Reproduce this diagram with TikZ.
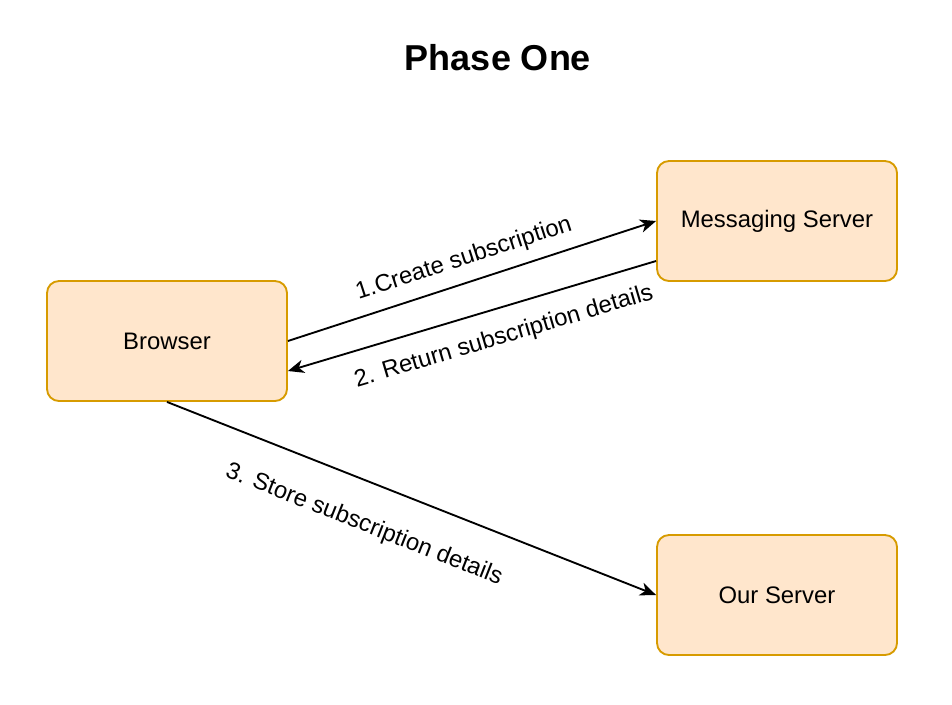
\documentclass[tikz,border=0pt]{standalone}
\usepackage{fontspec}
\setmainfont{Liberation Sans}
\usetikzlibrary{arrows.meta,calc}
\definecolor{boxfill}{HTML}{FFE6CC}
\definecolor{boxdraw}{HTML}{D79B00}
\begin{document}
\begin{tikzpicture}[x=0.75pt,y=-0.75pt,
  box/.style={draw=boxdraw,fill=boxfill,line width=1.4pt,rounded corners=9pt,
    minimum width=180pt,minimum height=90pt,inner sep=0pt,
    font=\fontsize{17.9}{21}\selectfont},
  conn/.style={line width=1.4pt,-{Stealth[length=12pt,width=10pt,inset=3.5pt]}},
  elabel/.style={font=\fontsize{17.9}{21}\selectfont,inner sep=0pt}]
\useasboundingbox (0,0) rectangle (952,704);
\node[font=\fontsize{27}{32}\selectfont\bfseries] (title) at (498,58) {Phase One};
\node[box] (ms) at (777,221) {\raisebox{-2pt}{Messaging Server}};
\node[box] (br) at (167,341) {\raisebox{-2pt}{Browser}};
\node[box] (os) at (777,595) {\raisebox{-2pt}{Our Server}};
\draw[conn] (br.east) -- (ms.west);
\draw[conn] ($(ms.west)+(0,40)$) -- ($(br.east)+(0,30)$);
\draw[conn] (br.south) -- (os.west);
\node[elabel,rotate=18] (l1) at (464,259) {1.Create subscription};
\node[elabel,rotate=16.56] (l2) at (504,337) {2. Return subscription details};
\node[elabel,rotate=-21.6] (l3) at (364,525) {3. Store subscription details};
\end{tikzpicture}
\end{document}
